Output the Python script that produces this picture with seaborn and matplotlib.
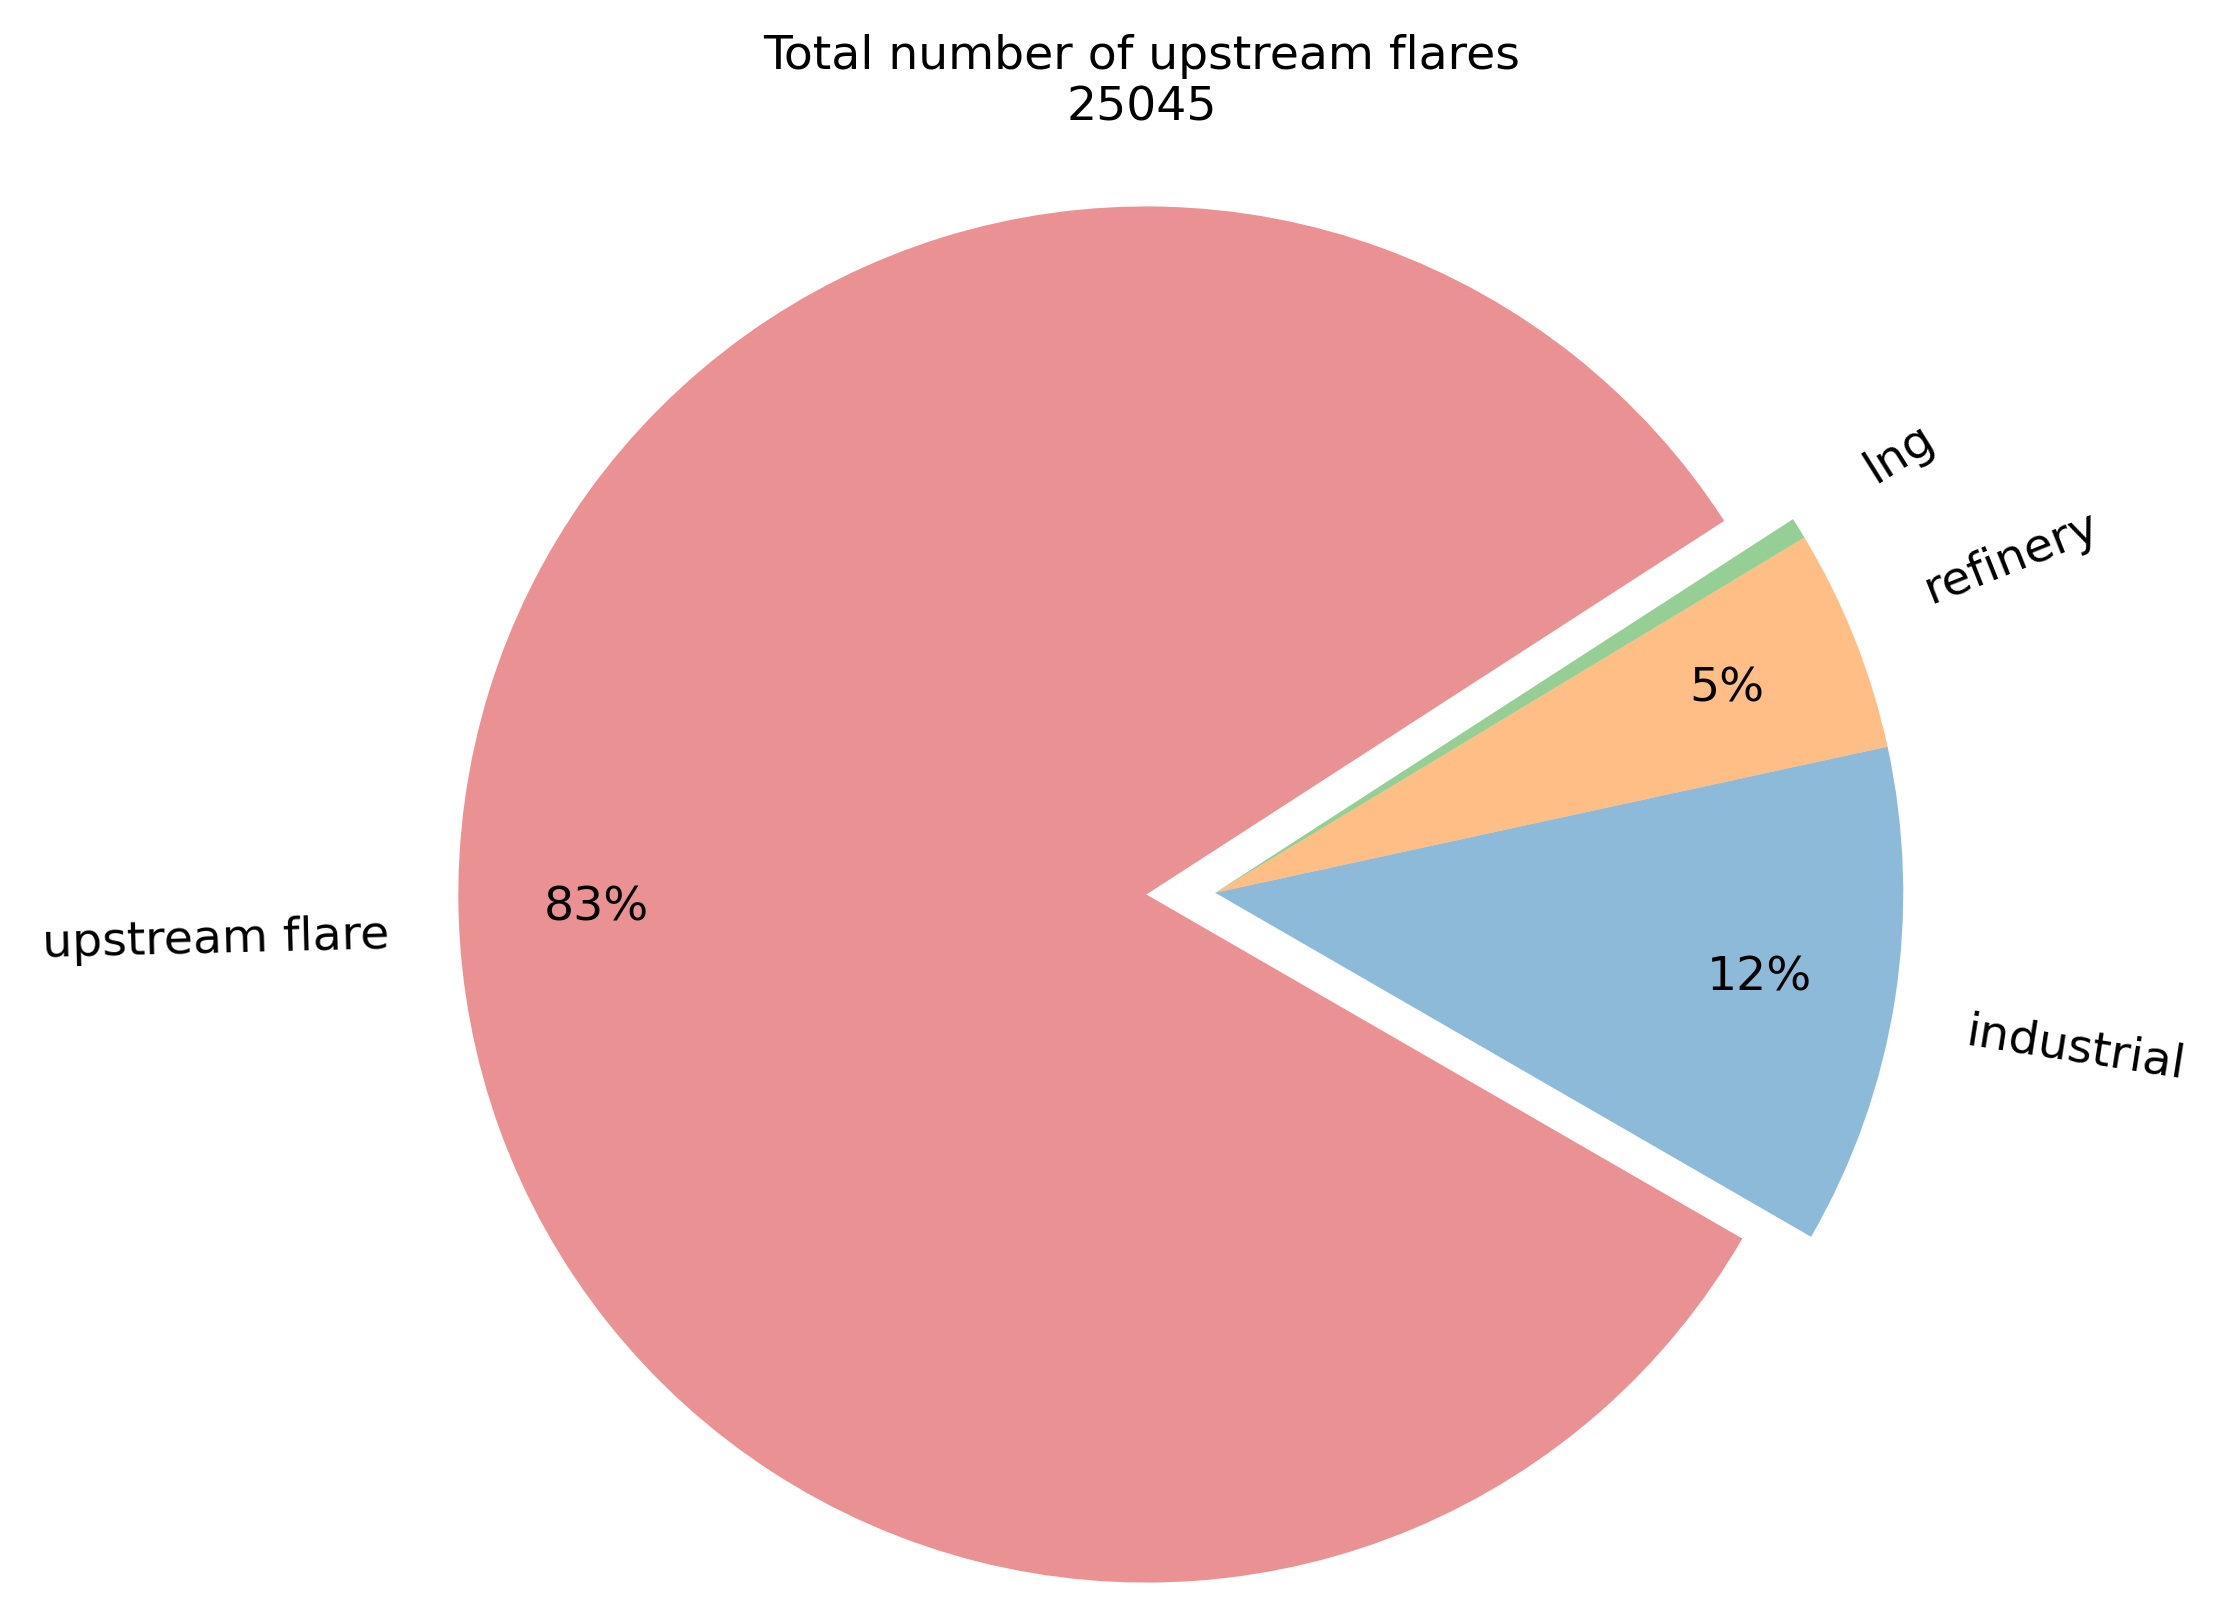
import matplotlib
matplotlib.use("Agg")
import matplotlib.pyplot as plt
import seaborn as sns

sns.set_theme(style="white")
plt.rcParams['font.family'] = ['DejaVu Sans']

categories = ["industrial", "refinery", "lng", "upstream flare"]
counts = [2940, 1310, 125, 20670]
total = 25045

colors = sns.color_palette("tab10", 4)
explode = [0, 0, 0, 0.1]

fig, ax = plt.subplots(figsize=(11.15, 8.095), dpi=200)
ax.pie(counts, labels=categories, colors=colors, explode=explode,
       startangle=-30, counterclock=True, rotatelabels=True,
       autopct=lambda p: f"{p:.0f}%" if p >= 2 else "", pctdistance=0.8,
       wedgeprops=dict(alpha=0.5, linewidth=0),
       textprops=dict(fontsize=17, color="black"))
ax.set_title(f"Total number of upstream flares\n{total}", fontsize=17, color="black", x=0.481)
ax.axis("equal")
fig.subplots_adjust(left=0.0645, right=0.9945, top=0.915, bottom=-0.02)
fig.savefig("out.png", dpi=200)
